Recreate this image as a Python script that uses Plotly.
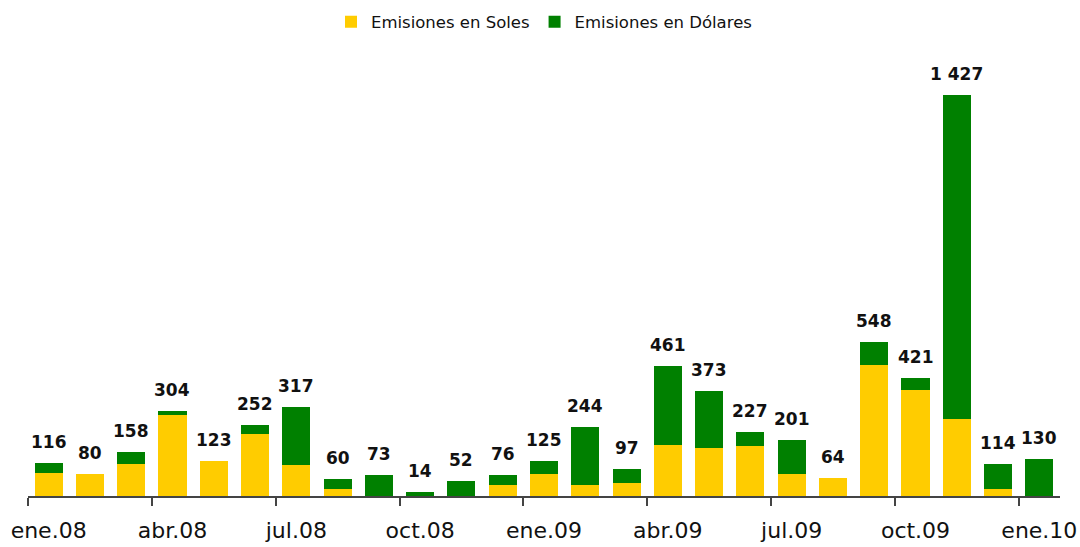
import plotly.graph_objects as go

months = ['ene.08', 'feb.08', 'mar.08', 'abr.08', 'may.08', 'jun.08', 'jul.08', 'ago.08',
          'sep.08', 'oct.08', 'nov.08', 'dic.08', 'ene.09', 'feb.09', 'mar.09', 'abr.09',
          'may.09', 'jun.09', 'jul.09', 'ago.09', 'sep.09', 'oct.09', 'nov.09', 'dic.09',
          'ene.10']
soles = [82, 80, 115, 288, 123, 221, 110, 25, 0, 0, 0, 38, 77, 38, 47, 183,
         172, 178, 77, 64, 465, 376, 274, 25, 0]
dolares = [34, 0, 43, 16, 0, 31, 207, 35, 73, 14, 52, 38, 48, 206, 50, 278,
           201, 49, 124, 0, 83, 45, 1153, 89, 130]
totals = [116, 80, 158, 304, 123, 252, 317, 60, 73, 14, 52, 76, 125, 244, 97, 461,
          373, 227, 201, 64, 548, 421, 1427, 114, 130]

x = list(range(len(months)))
label_idx = list(range(0, len(months), 3))

fig = go.Figure()
fig.add_trace(go.Bar(x=x, y=soles, name='Emisiones en Soles',
                     marker=dict(color='#FFCC00', line=dict(width=0))))
fig.add_trace(go.Bar(x=x, y=dolares, name='Emisiones en Dólares',
                     marker=dict(color='#008000', line=dict(width=0))))

for i, t in enumerate(totals):
    fig.add_annotation(x=i, y=t, text=f'{t:,}'.replace(',', ' '),
                       showarrow=False, yanchor='bottom', yshift=9,
                       font=dict(family='DejaVu Sans', size=17, color='#111111', weight='bold'))

fig.update_layout(
    width=1080, height=547,
    barmode='stack', bargap=0.32,
    plot_bgcolor='white', paper_bgcolor='white',
    margin=dict(l=28, r=20, t=50, b=51, autoexpand=False),
    font=dict(family='DejaVu Sans', color='#111111'),
    legend=dict(orientation='h', x=0.5, xanchor='center', y=1 - 22 / 547, yanchor='middle',
                yref='container', traceorder='normal', font=dict(size=16.5)),
    xaxis=dict(range=[-0.5, len(months) - 0.5], tickmode='array', automargin=False,
               tickvals=label_idx, ticktext=[months[i] for i in label_idx],
               ticks='outside', ticklen=14, tickcolor='rgba(0,0,0,0)',
               tickfont=dict(size=22), showline=True, linecolor='#444444',
               linewidth=2, showgrid=False, zeroline=False,
               minor=dict(tickmode='array', tickvals=[i - 0.5 for i in label_idx],
                          ticks='outside', ticklen=8, tickcolor='#444444', tickwidth=2,
                          showgrid=False)),
    yaxis=dict(range=[0, 1587], visible=False, showgrid=False, automargin=False),
)

# page body has a default 8px margin; remove it so the figure sits at the window corner
fig.write_html('out.html', config={'displayModeBar': False},
               post_script="document.body.style.margin='0';")
